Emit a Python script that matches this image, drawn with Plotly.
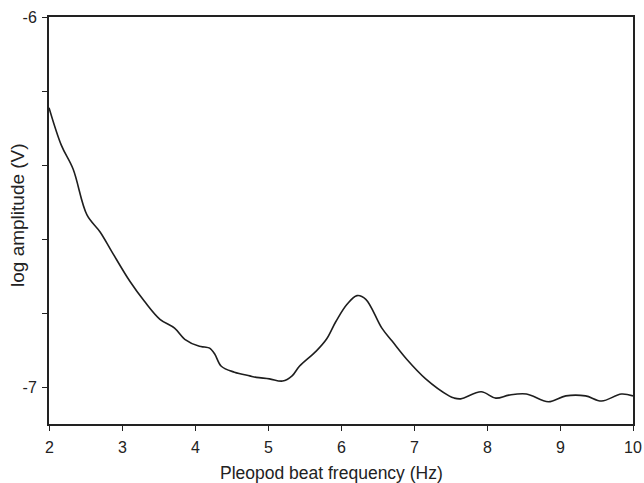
import plotly.graph_objects as go

freq = [2.0, 2.17, 2.33, 2.52, 2.70, 2.86, 3.11, 3.31, 3.52, 3.72, 3.86, 4.06, 4.13, 4.20,
        4.27, 4.36, 4.54, 4.75, 4.84, 5.02, 5.20, 5.33, 5.43, 5.66, 5.80, 5.93, 6.08, 6.22,
        6.34, 6.56, 6.70, 6.90, 7.16, 7.48, 7.55, 7.64, 7.92, 8.12, 8.30, 8.54, 8.84, 9.08,
        9.35, 9.57, 9.84, 10.0]
log_amp = [-6.245, -6.347, -6.411, -6.535, -6.581, -6.634, -6.715, -6.769, -6.817, -6.841,
           -6.871, -6.890, -6.892, -6.895, -6.911, -6.944, -6.960, -6.970, -6.974, -6.978,
           -6.984, -6.970, -6.944, -6.903, -6.871, -6.823, -6.777, -6.753, -6.763, -6.841,
           -6.876, -6.925, -6.978, -7.024, -7.030, -7.032, -7.013, -7.030, -7.022, -7.019,
           -7.040, -7.024, -7.024, -7.038, -7.019, -7.024]

x_ticks = [2, 3, 4, 5, 6, 7, 8, 9, 10]
y_ticks = [-6.0, -6.2, -6.4, -6.6, -6.8, -7.0]
y_tick_text = ["-6", "", "", "", "", "-7"]
x_title = "Pleopod beat frequency (Hz)"
y_title = "log amplitude (V)"

fig = go.Figure()
fig.add_trace(go.Scatter(x=freq, y=log_amp, mode="lines",
                         line=dict(color="#1e1e1e", width=1.6, shape="spline", smoothing=1.0),
                         showlegend=False, hoverinfo="skip"))

fig.update_layout(
    width=644, height=483,
    margin=dict(l=49, r=9, t=14, b=59),
    paper_bgcolor="white", plot_bgcolor="white",
    font=dict(family="Liberation Sans, Arial, sans-serif", size=16, color="#222222"),
)
fig.update_xaxes(
    range=[2, 10], tickvals=x_ticks, ticks="outside", ticklen=5, tickwidth=1,
    tickcolor="#222222", showline=True, linecolor="#222222", linewidth=2, mirror=True,
    showgrid=False, zeroline=False, showticklabels=False,
)
fig.update_yaxes(
    range=[-7.1, -6.0], tickvals=y_ticks, ticktext=y_tick_text, ticks="outside",
    ticklen=5, tickwidth=1, tickcolor="#222222", showline=True, linecolor="#222222",
    linewidth=2, mirror=True, showgrid=False, zeroline=False, ticklabelstandoff=2,
)
for t in x_ticks:
    fig.add_annotation(text=str(t), xref="x", yref="paper", x=t, y=0,
                       xanchor="center", yanchor="middle", yshift=-23.5,
                       showarrow=False, font=dict(size=16))
fig.add_annotation(text=x_title, xref="paper", yref="paper", x=0.5, y=0,
                   xanchor="center", yanchor="middle", xshift=-10, yshift=-48.5,
                   showarrow=False, font=dict(size=17.5))
fig.add_annotation(text=y_title, xref="paper", yref="paper", x=0, y=0.5,
                   xanchor="center", yanchor="middle", xshift=-32, yshift=5.5,
                   textangle=-90, showarrow=False, font=dict(size=19))

fig.write_html("out.html")
